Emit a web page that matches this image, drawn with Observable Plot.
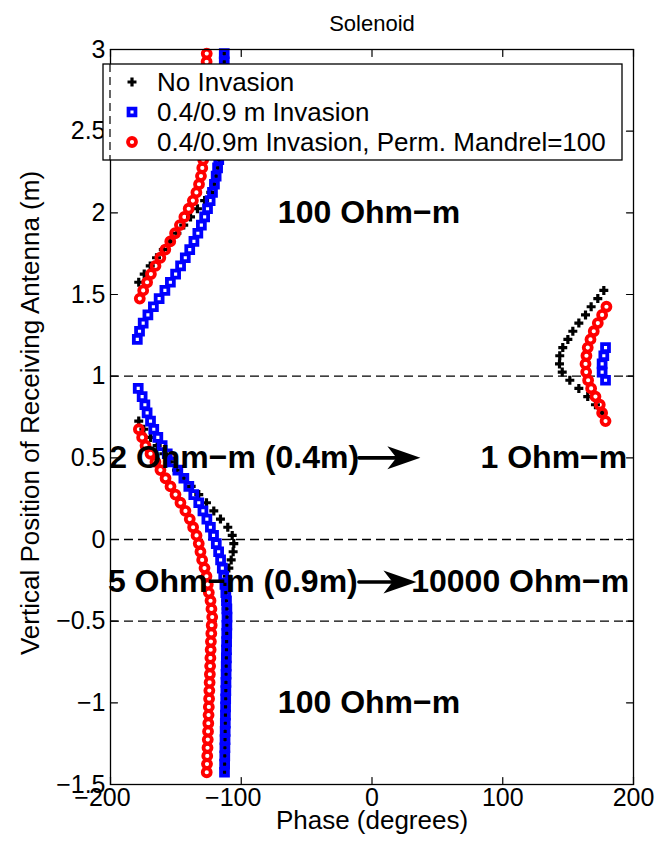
<!DOCTYPE html>
<html><head><meta charset="utf-8">
<script src="https://cdn.jsdelivr.net/npm/d3@7"></script>
<script src="https://cdn.jsdelivr.net/npm/@observablehq/plot@0.6"></script>
<style>body{margin:0;background:#fff}#chart{width:658px;height:843px}</style>
</head><body><div id="chart"></div>
<script>
const depths = [
 2.975,2.925,2.875,2.825,2.775,2.725,2.675,2.625,2.575,2.525,
 2.475,2.425,2.375,2.325,2.275,2.225,2.175,2.125,2.075,2.025,
 1.975,1.925,1.875,1.825,1.775,1.725,1.675,1.625,1.575,1.525,
 1.475,1.425,1.375,1.325,1.275,1.225,1.175,1.125,1.075,1.025,
 0.975,0.925,0.875,0.825,0.775,0.725,0.675,0.625,0.575,0.525,
 0.475,0.425,0.375,0.325,0.275,0.225,0.175,0.125,0.075,0.025,
 -0.025,-0.075,-0.125,-0.175,-0.225,-0.275,-0.325,-0.375,-0.425,-0.475,
 -0.525,-0.575,-0.625,-0.675,-0.725,-0.775,-0.825,-0.875,-0.925,-0.975,
 -1.025,-1.075,-1.125,-1.175,-1.225,-1.275,-1.325,-1.375,-1.425];
const noInvasionPhase = [
 -113.0,-113.0,-113.2,-113.4,-113.6,-113.8,-114.0,-114.3,-114.6,-115.0,
 -115.4,-115.9,-116.3,-116.8,-117.8,-119.2,-120.8,-123.3,-128.0,-133.5,
 -138.8,-144.0,-149.2,-154.4,-159.6,-164.8,-169.6,-174.2,-178.4,177.3,
 172.7,167.6,163.3,158.2,153.6,149.8,145.9,143.6,143.4,145.5,
 151.3,158.2,165.0,170.9,176.0,-178.4,-174.5,-169.4,-164.3,-159.2,
 -154.6,-149.5,-143.9,-138.3,-132.5,-126.6,-121.0,-115.9,-110.3,-106.9,
 -105.7,-106.2,-107.7,-109.5,-110.7,-112.0,-112.0,-111.8,-111.5,-111.2,
 -111.0,-111.1,-111.2,-111.3,-111.4,-111.5,-111.6,-111.7,-111.8,-111.9,
 -112.0,-112.1,-112.2,-112.3,-112.4,-112.5,-112.6,-112.7,-112.8];
const invasionPhase = [
 -113.0,-113.0,-113.2,-113.4,-113.6,-113.8,-114.0,-114.3,-114.6,-115.0,
 -115.4,-115.9,-116.5,-117.2,-118.1,-119.2,-120.5,-122.0,-123.8,-125.8,
 -128.0,-130.5,-133.2,-136.2,-139.4,-142.8,-146.4,-150.2,-154.2,-158.4,
 -162.8,-167.2,-171.4,-175.0,-177.8,-179.5,178.6,177.3,176.0,176.0,
 178.6,-178.8,-175.8,-173.7,-172.0,-169.4,-166.9,-163.8,-160.5,-156.6,
 -152.8,-148.5,-143.9,-140.1,-136.3,-132.5,-129.3,-126.3,-123.6,-121.2,
 -119.1,-117.3,-115.8,-114.5,-113.4,-112.5,-111.8,-111.3,-111.0,-110.9,
 -111.0,-111.1,-111.2,-111.3,-111.4,-111.5,-111.6,-111.7,-111.8,-111.9,
 -112.0,-112.1,-112.2,-112.3,-112.4,-112.5,-112.6,-112.7,-112.8];
const mandrelPhase = [
 -126.4,-126.5,-126.6,-126.7,-126.8,-127.0,-127.2,-127.4,-127.6,-127.8,
 -128.0,-128.3,-128.6,-129.1,-129.8,-130.8,-132.3,-134.3,-137.0,-140.2,
 -143.5,-146.9,-150.6,-154.3,-158.1,-161.9,-165.6,-169.1,-172.0,-175.0,
 -177.6,179.3,176.0,172.7,169.6,167.1,165.0,164.0,163.3,163.8,
 165.3,167.6,170.9,174.2,176.0,178.6,-178.3,-175.8,-173.2,-169.4,
 -165.6,-161.8,-157.9,-154.1,-150.3,-146.5,-142.7,-139.4,-136.8,-134.2,
 -132.5,-131.2,-129.9,-128.1,-126.6,-125.6,-124.8,-123.5,-122.8,-122.2,
 -122.6,-122.9,-123.2,-123.4,-123.6,-123.8,-124.0,-124.2,-124.4,-124.6,
 -124.8,-125.0,-125.2,-125.4,-125.6,-125.8,-126.0,-126.2,-126.4];
const seriesNames = ["No Invasion", "0.4/0.9 m Invasion", "0.4/0.9m Invasion, Perm. Mandrel=100"];
const xTicks = [-200, -100, 0, 100, 200];
const yTicks = [-1.5, -1, -0.5, 0, 0.5, 1, 1.5, 2, 2.5, 3];
const boundaryDepths = [1, 0, -0.5];
const annotationLabels = ["100 Ohm−m", "2 Ohm−m (0.4m)", "1 Ohm−m", "5 Ohm−m (0.9m)", "10000 Ohm−m", "100 Ohm−m"];
const annotationPhase = [-72, -201, 83, -202, 30, -72];
const annotationDepth = [2.0, 0.5, 0.5, -0.26, -0.26, -1.0];
const arrowFrom = [-10, -10];
const arrowTo = [37, 34];
const arrowDepth = [0.5, -0.26];
const titleText = "Solenoid";
const xLabel = "Phase (degrees)";
const yLabel = "Vertical Position of Receiving Antenna (m)";

const FONT = "'Liberation Sans', Arial, Helvetica, sans-serif";
const fmt = d => String(d).replace("-", "−");
const mk = arr => depths.map((d, i) => ({depth: d, phase: arr[i]}));
const black = mk(noInvasionPhase), blue = mk(invasionPhase), red = mk(mandrelPhase);
const notes = annotationLabels.map((t, i) => ({t, x: annotationPhase[i], y: annotationDepth[i]}));
const arrows = arrowFrom.map((f, i) => ({x1: f, x2: arrowTo[i], y: arrowDepth[i]}));
const tickShape = {draw(ctx, l) { ctx.moveTo(0, 0); ctx.lineTo(0, -l); }};
const headSymbol = {draw(ctx) { ctx.moveTo(0, 0); ctx.lineTo(-33, -11.5); ctx.lineTo(-24, 0); ctx.lineTo(-33, 11.5); ctx.closePath(); }};

const styles = [
  {name: seriesNames[0], symbol: "plus", r: 3, stroke: "#000", sw: 3.2},
  {name: seriesNames[1], symbol: "square", r: 3.9, stroke: "#0000ff", sw: 3.8},
  {name: seriesNames[2], symbol: "circle", r: 4, stroke: "#ff0000", sw: 3.8}
];
const dotOpts = s => ({x: "phase", y: "depth", symbol: s.symbol, r: s.r, stroke: s.stroke, strokeWidth: s.sw, fill: "none"});
const TICK_FS = 25, LABEL_FS = 26;

const svg = Plot.plot({
  width: 658, height: 843,
  marginLeft: 110, marginRight: 25, marginTop: 49, marginBottom: 59,
  style: {fontFamily: FONT, fontSize: "24px", background: "#fff", color: "#000"},
  x: {domain: [-200, 200], axis: null},
  y: {domain: [-1.5, 3], axis: null},
  marks: [
    Plot.ruleY(boundaryDepths, {y: d => d, stroke: "#000", strokeWidth: 1.3, strokeDasharray: "9,5"}),
    Plot.dot(black, dotOpts(styles[0])),
    Plot.dot(blue, dotOpts(styles[1])),
    Plot.dot(red, dotOpts(styles[2])),
    Plot.frame({stroke: "#000", strokeWidth: 1.3}),
    Plot.vector(xTicks, {x: d => d, frameAnchor: "bottom", length: 7, rotate: 0, anchor: "start", shape: tickShape, stroke: "#000", strokeWidth: 1.2}),
    Plot.vector(xTicks, {x: d => d, frameAnchor: "top", length: 7, rotate: 180, anchor: "start", shape: tickShape, stroke: "#000", strokeWidth: 1.2}),
    Plot.vector(yTicks, {y: d => d, frameAnchor: "left", length: 7, rotate: 90, anchor: "start", shape: tickShape, stroke: "#000", strokeWidth: 1.2}),
    Plot.vector(yTicks, {y: d => d, frameAnchor: "right", length: 7, rotate: -90, anchor: "start", shape: tickShape, stroke: "#000", strokeWidth: 1.2}),
    Plot.text(xTicks.filter(d => d < 0), {x: d => d, frameAnchor: "bottom", dy: 21, dx: -8, text: fmt, fontSize: TICK_FS}),
    Plot.text(xTicks.filter(d => d >= 0), {x: d => d, frameAnchor: "bottom", dy: 21, text: fmt, fontSize: TICK_FS}),
    Plot.text(yTicks, {y: d => d, frameAnchor: "left", dx: -5, textAnchor: "end", text: fmt, fontSize: TICK_FS}),
    Plot.text([xLabel], {frameAnchor: "bottom", dy: 44, text: d => d, fontSize: LABEL_FS}),
    Plot.text([yLabel], {frameAnchor: "left", textAnchor: "middle", dx: -80, dy: -4, rotate: -90, text: d => d, fontSize: LABEL_FS}),
    Plot.text([titleText], {frameAnchor: "top", dy: -34, text: d => d, fontSize: 22}),
    Plot.arrow(arrows, {x1: "x1", x2: "x2", y1: "y", y2: "y", headLength: 0, insetEnd: 22, stroke: "#000", strokeWidth: 3.6}),
    Plot.dot(arrows, {x: "x2", y: "y", symbol: headSymbol, fill: "#000", stroke: "none", r: 5}),
    Plot.text(notes, {x: "x", y: "y", text: "t", textAnchor: "start", fontWeight: "bold", fontSize: 32, fill: "#000"})
  ]
});

// Legend box (white, drawn over the data as in the original)
const g = d3.select(svg).append("g").attr("font-family", FONT).attr("font-size", LABEL_FS).attr("text-anchor", "start");
const lx = 103, ly = 64, lw = 519, lh = 96;
g.append("rect").attr("x", lx).attr("y", ly).attr("width", lw).attr("height", lh)
  .attr("fill", "#fff").attr("stroke", "#000").attr("stroke-width", 1.3);
const symMap = {plus: d3.symbolPlus, square: d3.symbolSquare, circle: d3.symbolCircle};
styles.forEach((s, i) => {
  const cy = ly + 18 + i * 30;
  g.append("path").attr("d", d3.symbol(symMap[s.symbol], s.r * s.r * Math.PI)())
    .attr("transform", `translate(${lx + 29},${cy})`)
    .attr("fill", "none").attr("stroke", s.stroke).attr("stroke-width", s.sw);
  g.append("text").attr("x", lx + 54).attr("y", cy).attr("dy", "0.35em").attr("text-anchor", "start").text(s.name);
});
g.append("line").attr("x1", 110).attr("x2", 110).attr("y1", ly).attr("y2", ly + lh)
  .attr("stroke", "#000").attr("stroke-width", 1.2).attr("stroke-dasharray", "8,5");

document.getElementById("chart").appendChild(svg);
</script></body></html>
